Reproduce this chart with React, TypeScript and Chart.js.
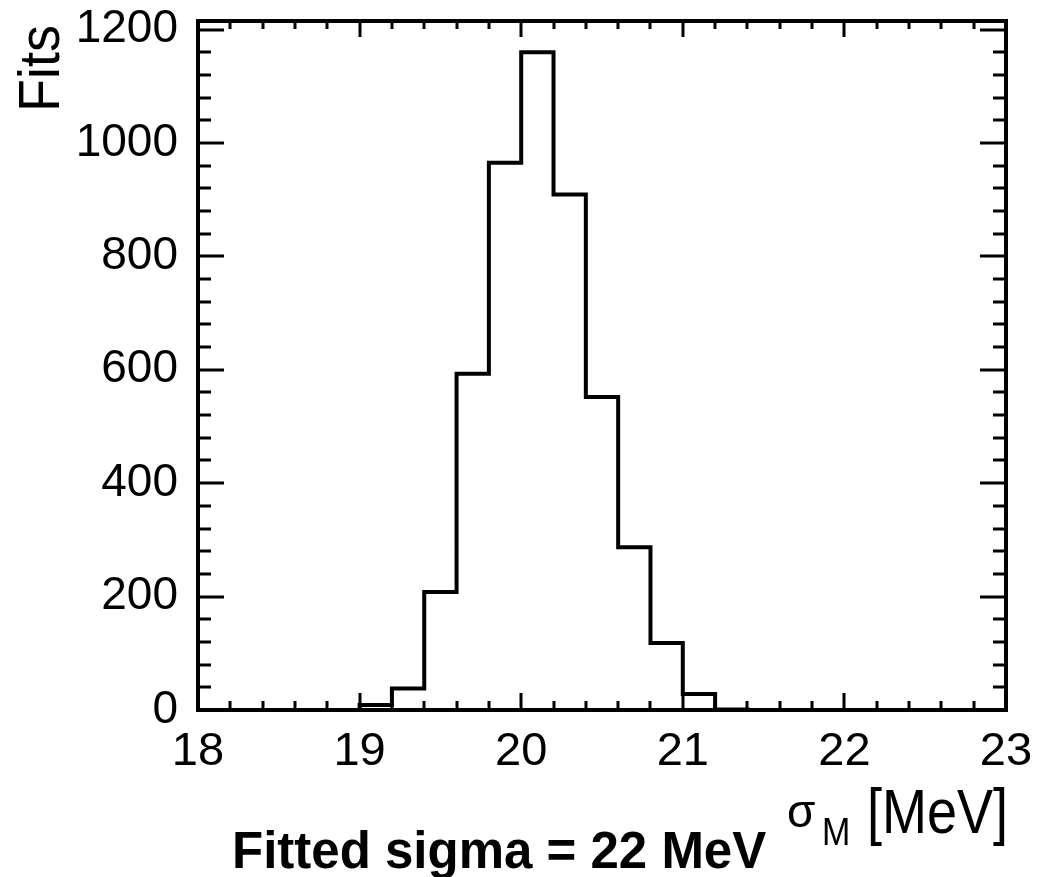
import React, { useEffect, useRef } from 'react';
import { Chart, registerables } from 'chart.js';

Chart.register(...registerables);

// Histogram bins (low edges, MeV) and counts
const binLow: number[] = [
  18.0, 18.2, 18.4, 18.6, 18.8,
  19.0, 19.2, 19.4, 19.6, 19.8,
  20.0, 20.2, 20.4, 20.6, 20.8,
  21.0, 21.2, 21.4, 21.6, 21.8,
  22.0, 22.2, 22.4, 22.6, 22.8,
];
const counts: number[] = [
  0, 0, 0, 0, 0,
  9, 38, 208, 593, 965,
  1160, 909, 552, 287, 118,
  28, 1, 0, 0, 0,
  0, 0, 0, 0, 0,
];
const xMin = 18;
const xMax = 23;
const yMax = 1215;
const yTickLabels: number[] = [0, 200, 400, 600, 800, 1000, 1200];
const xTickLabels: number[] = [18, 19, 20, 21, 22, 23];
const yTitle = 'Fits';
const xTitleSymbol = 'σ';
const xTitleSub = 'M';
const xTitleUnit = '[MeV]';
const note = 'Fitted sigma = 22 MeV';

const FONT = '"Liberation Sans", Arial, Helvetica, sans-serif';

const framePlugin = {
  id: 'rootFrame',
  afterDraw(chart: any) {
    const { ctx, chartArea } = chart;
    const xs = chart.scales.x;
    const ys = chart.scales.y;
    const { left, right, top, bottom } = chartArea;
    ctx.save();
    ctx.strokeStyle = '#000';
    ctx.lineWidth = 4;
    ctx.lineCap = 'butt';
    // frame
    ctx.strokeRect(left, top, right - left, bottom - top);
    ctx.lineWidth = 3;
    // x ticks (bottom & top)
    for (let i = 0; i <= 25; i++) {
      const v = xMin + i * 0.2;
      const px = Math.round(xs.getPixelForValue(v));
      const major = i % 5 === 0;
      const lb = major ? 17 : 9;
      const lt = major ? 16 : 8;
      ctx.beginPath();
      ctx.moveTo(px, bottom);
      ctx.lineTo(px, bottom - lb);
      ctx.moveTo(px, top);
      ctx.lineTo(px, top + lt);
      ctx.stroke();
    }
    // y ticks (left & right)
    for (let v = 0; v <= 1200; v += 40) {
      const py = Math.round(ys.getPixelForValue(v));
      const major = v % 200 === 0;
      const l = major ? 26 : 13;
      ctx.beginPath();
      ctx.moveTo(left, py);
      ctx.lineTo(left + l, py);
      ctx.moveTo(right, py);
      ctx.lineTo(right - l, py);
      ctx.stroke();
    }
    ctx.fillStyle = '#000';
    ctx.textBaseline = 'alphabetic';
    // y title
    ctx.save();
    ctx.font = `54px ${FONT}`;
    ctx.translate(59, 25);
    ctx.rotate(-Math.PI / 2);
    ctx.scale(1, 1.07);
    ctx.textAlign = 'right';
    ctx.fillText(yTitle, 0, 0);
    ctx.restore();
    // x title: sigma_M [MeV]
    ctx.textAlign = 'left';
    ctx.font = `46px ${FONT}`;
    ctx.fillText(xTitleSymbol, 787, 827);
    ctx.save();
    ctx.translate(822, 845);
    ctx.scale(1, 1.15);
    ctx.font = `34px ${FONT}`;
    ctx.fillText(xTitleSub, 0, 0);
    ctx.restore();
    ctx.save();
    ctx.translate(1008, 833);
    ctx.scale(1, 1.18);
    ctx.textAlign = 'right';
    ctx.font = `54px ${FONT}`;
    ctx.fillText(xTitleUnit, 0, 0);
    ctx.restore();
    // note
    ctx.textAlign = 'left';
    ctx.font = `bold 51px ${FONT}`;
    ctx.fillText(note, 232, 868);
    ctx.restore();
  },
};

export default function App() {
  const ref = useRef<HTMLCanvasElement | null>(null);
  useEffect(() => {
    if (!ref.current) return;
    const pts = binLow.map((x, i) => ({ x, y: counts[i] }));
    pts.push({ x: xMax, y: counts[counts.length - 1] });
    const chart = new Chart(ref.current, {
      type: 'line',
      data: {
        datasets: [
          {
            data: pts,
            stepped: 'before',
            borderColor: '#000',
            borderWidth: 4,
            pointRadius: 0,
            fill: false,
            tension: 0,
          },
        ],
      },
      options: {
        animation: false,
        responsive: false,
        devicePixelRatio: 1,
        layout: { padding: { top: 21, right: 34, left: 0, bottom: 0 } },
        plugins: { legend: { display: false }, tooltip: { enabled: false }, title: { display: false } },
        scales: {
          x: {
            type: 'linear',
            min: xMin,
            max: xMax,
            grid: { display: false, drawTicks: false },
            border: { display: false },
            ticks: {
              color: '#000',
              font: { family: FONT, size: 47 },
              padding: 14,
              maxRotation: 0,
              autoSkip: false,
              callback: (v: any) => String(v),
            },
            afterBuildTicks: (s: any) => {
              s.ticks = xTickLabels.map((v) => ({ value: v }));
            },
            afterFit: (s: any) => {
              s.height = 167;
              s.paddingLeft = 0;
              s.paddingRight = 0;
            },
          },
          y: {
            type: 'linear',
            min: 0,
            max: yMax,
            grid: { display: false, drawTicks: false },
            border: { display: false },
            ticks: {
              color: '#000',
              font: { family: FONT, size: 46 },
              padding: 20,
              autoSkip: false,
              callback: (v: any) => String(v),
            },
            afterBuildTicks: (s: any) => {
              s.ticks = yTickLabels.map((v) => ({ value: v }));
            },
            afterFit: (s: any) => {
              s.width = 198;
              s.paddingTop = 0;
              s.paddingBottom = 0;
            },
          },
        },
      },
      plugins: [framePlugin],
    });
    return () => chart.destroy();
  }, []);
  return (
    <div style={{ position: 'absolute', left: 0, top: 0, width: 1040, height: 877, background: '#fff' }}>
      <canvas ref={ref} width={1040} height={877} />
    </div>
  );
}
